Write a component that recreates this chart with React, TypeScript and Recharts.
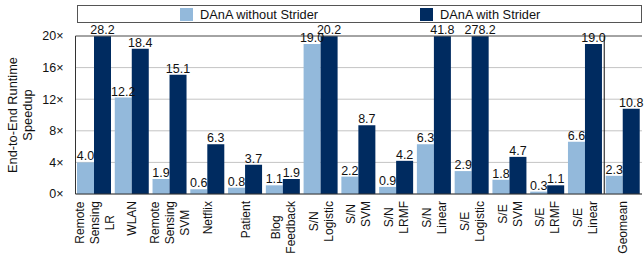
import { BarChart, Bar, XAxis, YAxis, CartesianGrid, ReferenceLine, LabelList } from "recharts";

const categories = [
  "Remote Sensing LR", "WLAN", "Remote Sensing SVM", "Netflix", "Patient", "Blog Feedback",
  "S/N Logistic", "S/N SVM", "S/N LRMF", "S/N Linear",
  "S/E Logistic", "S/E SVM", "S/E LRMF", "S/E Linear", "Geomean",
];
const tickLines = [
  ["Remote", "Sensing", "LR"], ["WLAN"], ["Remote", "Sensing", "SVM"], ["Netflix"], ["Patient"], ["Blog", "Feedback"],
  ["S/N", "Logistic"], ["S/N", "SVM"], ["S/N", "LRMF"], ["S/N", "Linear"],
  ["S/E", "Logistic"], ["S/E", "SVM"], ["S/E", "LRMF"], ["S/E", "Linear"], ["Geomean"],
];
const withoutStrider = [4.0, 12.2, 1.9, 0.6, 0.8, 1.1, 19.0, 2.2, 0.9, 6.3, 2.9, 1.8, 0.3, 6.6, 2.3];
const withStrider = [28.2, 18.4, 15.1, 6.3, 3.7, 1.9, 20.2, 8.7, 4.2, 41.8, 278.2, 4.7, 1.1, 19.0, 10.8];
const yTicks = [0, 4, 8, 12, 16, 20];
const Y_MAX = 20;

const LIGHT = "#93b9db";
const DARK = "#002b60";
const FONT = "'Liberation Sans', Arial, sans-serif";

const data = categories.map((name, i) => ({
  name,
  without: Math.min(withoutStrider[i], Y_MAX),
  with: Math.min(withStrider[i], Y_MAX),
  withoutRaw: withoutStrider[i],
  withRaw: withStrider[i],
}));

let ctx: CanvasRenderingContext2D | null = null;
function textWidth(s: string) {
  if (!ctx) ctx = document.createElement("canvas").getContext("2d");
  if (!ctx) return s.length * 6.5;
  ctx.font = `12px ${FONT}`;
  return ctx.measureText(s).width;
}

function XTick({ x, y, index }: any) {
  const lines = tickLines[index] || [];
  const maxW = Math.max(...lines.map(textWidth));
  const n = lines.length;
  return (
    <g transform={`translate(${x},${y + 7}) rotate(-90)`}>
      {lines.map((l, i) => (
        <text
          key={i}
          x={-maxW / 2}
          y={(i - (n - 1) / 2) * 15}
          dy="0.35em"
          textAnchor="middle"
          fontSize={12}
          fill="#111"
        >
          {l}
        </text>
      ))}
    </g>
  );
}

function YTitle({ viewBox }: any) {
  const cy = viewBox.y + viewBox.height / 2;
  return (
    <g fontSize={12.8} fill="#111">
      <text transform={`translate(13,${cy}) rotate(-90)`} textAnchor="middle" dy="0.35em">End-to-End Runtime</text>
      <text transform={`translate(28,${cy}) rotate(-90)`} textAnchor="middle" dy="0.35em">Speedup</text>
    </g>
  );
}

const labelStyle = { fontSize: 12.5, fill: "#111" };
const fmt = (v: number) => v.toFixed(1);

function Legend() {
  const item = (color: string, text: string, left: number) => (
    <div style={{ position: "absolute", left, top: 2, display: "flex", alignItems: "center" }}>
      <span style={{ width: 13, height: 12.5, background: color, display: "inline-block" }} />
      <span style={{ marginLeft: 7, fontSize: 12.8, lineHeight: "13px", color: "#111" }}>{text}</span>
    </div>
  );
  return (
    <div
      style={{
        position: "absolute", left: 77, top: 5, width: 563, height: 16,
        border: "1px solid #555", boxSizing: "content-box", background: "#fff",
      }}
    >
      {item(LIGHT, "DAnA without Strider", 102)}
      {item(DARK, "DAnA with Strider", 342)}
    </div>
  );
}

export default function App() {
  return (
    <div style={{ position: "absolute", left: 0, top: 0, width: 644, height: 255, fontFamily: FONT, background: "#fff" }}>
      <BarChart
        width={644}
        height={255}
        data={data}
        margin={{ top: 36, right: 2, bottom: 0, left: 0 }}
        barCategoryGap={1.5}
        barGap={0}
      >
        <CartesianGrid vertical={false} stroke="#c4c4c4" />
        <XAxis
          dataKey="name"
          interval={0}
          height={61}
          tickLine={false}
          tickSize={0}
          tickMargin={0}
          axisLine={{ stroke: "#333" }}
          tick={<XTick />}
        />
        <YAxis
          domain={[0, Y_MAX]}
          ticks={yTicks}
          width={75.5}
          tickLine={false}
          tickSize={0}
          tickMargin={12}
          axisLine={{ stroke: "#333" }}
          tickFormatter={(v: number) => `${v}×`}
          tick={{ fontSize: 12.5, fill: "#111" }}
          label={<YTitle />}
        />
        <YAxis yAxisId="r" orientation="right" domain={[0, Y_MAX]} width={0} tick={false} tickLine={false} axisLine={{ stroke: "#888" }} />
        <ReferenceLine y={Y_MAX} stroke="#666" />
        <ReferenceLine x="Geomean" position="start" stroke="#111" />
        <Bar dataKey="without" fill={LIGHT} isAnimationActive={false}>
          <LabelList dataKey="withoutRaw" position="top" offset={2} formatter={fmt} style={labelStyle} />
        </Bar>
        <Bar dataKey="with" fill={DARK} isAnimationActive={false}>
          <LabelList dataKey="withRaw" position="top" offset={2} formatter={fmt} style={labelStyle} />
        </Bar>
      </BarChart>
      <Legend />
    </div>
  );
}
